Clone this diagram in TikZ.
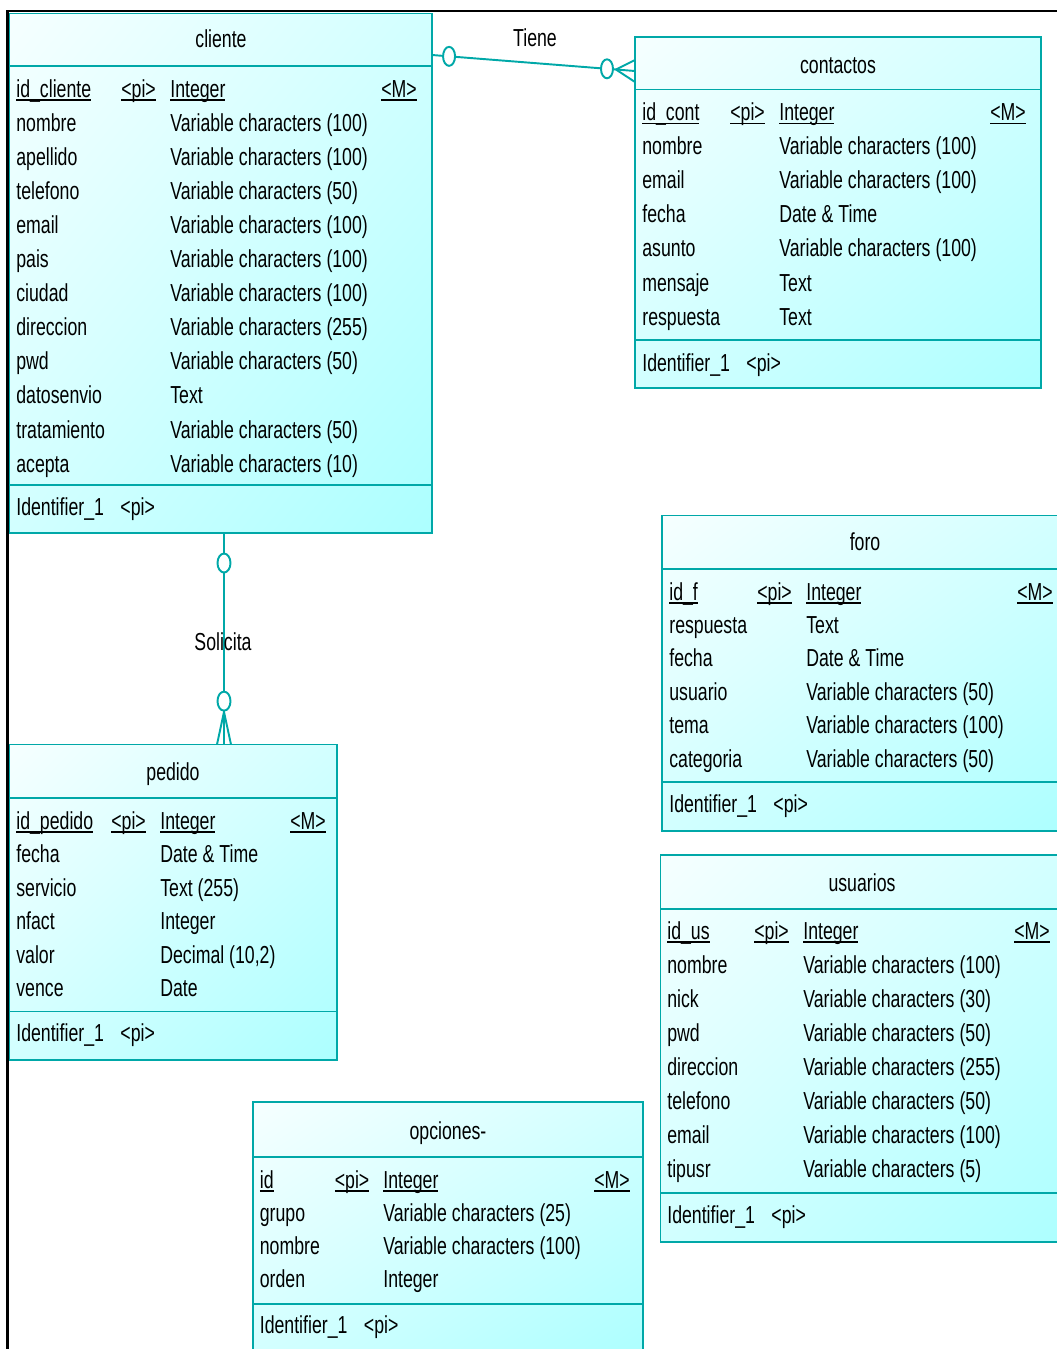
\documentclass[tikz,border=0pt]{standalone}
\usepackage{fontspec}
\setmainfont{Liberation Sans}[FakeStretch=0.72]
\usepackage{tikz}
\usetikzlibrary{calc,positioning,shadings}
\definecolor{verdeazul}{RGB}{0,168,168}
\definecolor{celesteA}{RGB}{246,255,255}
\definecolor{celesteB}{RGB}{210,255,255}
\definecolor{celesteC}{RGB}{172,255,255}
\newcommand{\subr}[1]{\setbox0=\hbox{#1}\rlap{\rule[-2.2pt]{\wd0}{0.8pt}}\box0}

\begin{document}
\begin{tikzpicture}[x=0.02cm,y=-0.02cm,
  every node/.style={font=\fontsize{14}{16}\selectfont,inner sep=0pt},
  caja/.style={upper left=celesteA,upper right=celesteB,lower left=celesteB,lower right=celesteC},
  borde/.style={draw=verdeazul,line width=1.1pt},
  marco/.style={draw=black,line width=1.3pt},
  campo/.style={anchor=base west},
  titulo/.style={anchor=base},
  rel/.style={draw=verdeazul,line width=1.1pt},
  circulo/.style={draw=verdeazul,fill=white,line width=1.1pt}]
  \useasboundingbox (0,0) rectangle (1057,1349);
  \clip (0,0) rectangle (1057,1349);
  \draw[marco] (7.5,1349) -- (7.5,11) -- (1057,11);

  \shade[caja] (9.5,13.5) rectangle (432,533);
  \draw[borde] (9.5,13.5) rectangle (432,533) (9.5,66) -- (432,66) (9.5,485) -- (432,485);
  \node[titulo] (cliente) at (221,47) {cliente};
  \node[campo] (cli-clave) at (16,97) {\subr{id\_cliente}};
  \node[campo] (cli-pi) at (121,97) {\subr{<pi>}};
  \node[campo] (cli-tipo) at (170,97) {\subr{Integer}};
  \node[campo] (cli-m) at (381,97) {\subr{<M>}};
  \foreach \n/\t [count=\i] in {nombre/Variable characters (100),apellido/Variable characters (100),
    telefono/Variable characters (50),email/Variable characters (100),pais/Variable characters (100),
    ciudad/Variable characters (100),direccion/Variable characters (255),pwd/Variable characters (50),
    datosenvio/Text,tratamiento/Variable characters (50),acepta/Variable characters (10)}{
    \node[campo] (cli-n\i) at (16,97+34.1*\i) {\n};
    \node[campo] (cli-t\i) at (170,97+34.1*\i) {\t};
  }
  \node[campo] (cli-idf) at (16,515) {Identifier\_1\hspace{0.33cm}<pi>};

  \shade[caja] (635,37) rectangle (1041,388);
  \draw[borde] (635,37) rectangle (1041,388) (635,89.5) -- (1041,89.5) (635,340) -- (1041,340);
  \node[titulo] (contactos) at (838,73) {contactos};
  \node[campo] (con-clave) at (642,120.5) {\subr{id\_cont}};
  \node[campo] (con-pi) at (730,120.5) {\subr{<pi>}};
  \node[campo] (con-tipo) at (779,120.5) {\subr{Integer}};
  \node[campo] (con-m) at (990,120.5) {\subr{<M>}};
  \foreach \n/\t [count=\i] in {nombre/Variable characters (100),email/Variable characters (100),
    fecha/Date \& Time,asunto/Variable characters (100),mensaje/Text,respuesta/Text}{
    \node[campo] (con-n\i) at (642,120.5+34.1*\i) {\n};
    \node[campo] (con-t\i) at (779,120.5+34.1*\i) {\t};
  }
  \node[campo] (con-idf) at (642,371) {Identifier\_1\hspace{0.33cm}<pi>};

  \shade[caja] (662,515.5) rectangle (1070,831);
  \draw[borde] (662,515.5) rectangle (1070,831) (662,569) -- (1070,569) (662,782) -- (1070,782);
  \node[titulo] (foro) at (865,550) {foro};
  \node[campo] (for-clave) at (669,600) {\subr{id\_f}};
  \node[campo] (for-pi) at (757,600) {\subr{<pi>}};
  \node[campo] (for-tipo) at (806,600) {\subr{Integer}};
  \node[campo] (for-m) at (1017,600) {\subr{<M>}};
  \foreach \n/\t [count=\i] in {respuesta/Text,fecha/Date \& Time,usuario/Variable characters (50),
    tema/Variable characters (100),categoria/Variable characters (50)}{
    \node[campo] (for-n\i) at (669,600+33.4*\i) {\n};
    \node[campo] (for-t\i) at (806,600+33.4*\i) {\t};
  }
  \node[campo] (for-idf) at (669,812) {Identifier\_1\hspace{0.33cm}<pi>};

  \shade[caja] (660.5,855) rectangle (1068,1242);
  \draw[borde] (660.5,855) rectangle (1068,1242) (660.5,909) -- (1068,909) (660.5,1193) -- (1068,1193);
  \node[titulo] (usuarios) at (862,891.5) {usuarios};
  \node[campo] (usu-clave) at (667,939) {\subr{id\_us}};
  \node[campo] (usu-pi) at (754,939) {\subr{<pi>}};
  \node[campo] (usu-tipo) at (803,939) {\subr{Integer}};
  \node[campo] (usu-m) at (1014,939) {\subr{<M>}};
  \foreach \n/\t [count=\i] in {nombre/Variable characters (100),nick/Variable characters (30),
    pwd/Variable characters (50),direccion/Variable characters (255),telefono/Variable characters (50),
    email/Variable characters (100),tipusr/Variable characters (5)}{
    \node[campo] (usu-n\i) at (667,939+34.1*\i) {\n};
    \node[campo] (usu-t\i) at (803,939+34.1*\i) {\t};
  }
  \node[campo] (usu-idf) at (667,1223) {Identifier\_1\hspace{0.33cm}<pi>};

  \shade[caja] (9.5,744.5) rectangle (337,1060);
  \draw[borde] (9.5,744.5) rectangle (337,1060) (9.5,798) -- (337,798) (9.5,1011.5) -- (337,1011.5);
  \node[titulo] (pedido) at (173,780) {pedido};
  \node[campo] (ped-clave) at (16,829) {\subr{id\_pedido}};
  \node[campo] (ped-pi) at (111,829) {\subr{<pi>}};
  \node[campo] (ped-tipo) at (160,829) {\subr{Integer}};
  \node[campo] (ped-m) at (290,829) {\subr{<M>}};
  \foreach \n/\t [count=\i] in {fecha/Date \& Time,servicio/Text (255),nfact/Integer,
    valor/{Decimal (10,2)},vence/Date}{
    \node[campo] (ped-n\i) at (16,829+33.5*\i) {\n};
    \node[campo] (ped-t\i) at (160,829+33.5*\i) {\t};
  }
  \node[campo] (ped-idf) at (16,1041.5) {Identifier\_1\hspace{0.33cm}<pi>};

  \shade[caja] (253,1102) rectangle (643,1360);
  \draw[borde] (253,1102) rectangle (643,1360) (253,1157) -- (643,1157) (253,1304) -- (643,1304);
  \node[titulo] (opciones) at (448,1139) {opciones-};
  \node[campo] (opc-clave) at (259.5,1188) {\subr{id}};
  \node[campo] (opc-pi) at (334.5,1188) {\subr{<pi>}};
  \node[campo] (opc-tipo) at (383,1188) {\subr{Integer}};
  \node[campo] (opc-m) at (594,1188) {\subr{<M>}};
  \foreach \n/\t [count=\i] in {grupo/Variable characters (25),nombre/Variable characters (100),
    orden/Integer}{
    \node[campo] (opc-n\i) at (259.5,1188+33.3*\i) {\n};
    \node[campo] (opc-t\i) at (383,1188+33.3*\i) {\t};
  }
  \node[campo] (opc-idf) at (259.5,1333) {Identifier\_1\hspace{0.33cm}<pi>};

  \coordinate (tie-a) at (432,55);
  \coordinate (tie-b) at (635,71);
  \draw[rel] (tie-a) -- (tie-b);
  \draw[rel] ($(tie-a)!0.906!(tie-b)$) -- ($(tie-b)+(0,-11)$);
  \draw[rel] ($(tie-a)!0.906!(tie-b)$) -- ($(tie-b)+(0,11)$);
  \draw[circulo] ($(tie-a)!0.084!(tie-b)$) ellipse [x radius=0.12cm,y radius=0.19cm];
  \draw[circulo] ($(tie-a)!0.862!(tie-b)$) ellipse [x radius=0.12cm,y radius=0.19cm];
  \node[titulo] (tiene) at (535,46.5) {Tiene};

  \coordinate (sol-a) at (224,533);
  \coordinate (sol-b) at (224,744.5);
  \draw[rel] (sol-a) -- (sol-b);
  \draw[rel] ($(sol-a)!0.846!(sol-b)$) -- ($(sol-b)+(-7,0)$);
  \draw[rel] ($(sol-a)!0.846!(sol-b)$) -- ($(sol-b)+(7,0)$);
  \draw[circulo] ($(sol-a)!0.142!(sol-b)$) ellipse [x radius=0.13cm,y radius=0.19cm];
  \draw[circulo] ($(sol-a)!0.795!(sol-b)$) ellipse [x radius=0.13cm,y radius=0.19cm];
  \node[titulo] (solicita) at (223,650) {Solicita};
\end{tikzpicture}
\end{document}
